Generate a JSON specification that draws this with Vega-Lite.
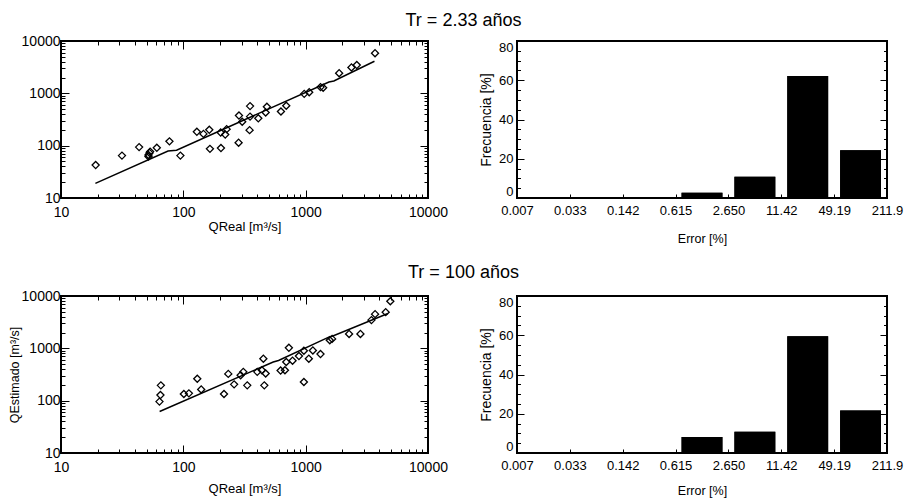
{
  "$schema": "https://vega.github.io/schema/vega-lite/v6.json",
  "padding": {"left": 7, "top": 11, "right": 0, "bottom": 0},
  "datasets": {
    "top_pts": [
      {"qreal": 19.2, "qest": 42.6}, {"qreal": 31.5, "qest": 64.6}, {"qreal": 43.5, "qest": 93.8},
      {"qreal": 51.9, "qest": 66.5}, {"qreal": 52.9, "qest": 72.8}, {"qreal": 53.5, "qest": 77},
      {"qreal": 51.9, "qest": 62}, {"qreal": 60.7, "qest": 91}, {"qreal": 77, "qest": 121},
      {"qreal": 94.6, "qest": 64.6}, {"qreal": 129, "qest": 184}, {"qreal": 146, "qest": 168},
      {"qreal": 163, "qest": 201}, {"qreal": 165, "qest": 87}, {"qreal": 202, "qest": 178},
      {"qreal": 203, "qest": 90}, {"qreal": 220, "qest": 163}, {"qreal": 226, "qest": 207},
      {"qreal": 283, "qest": 114}, {"qreal": 285, "qest": 376}, {"qreal": 303, "qest": 287},
      {"qreal": 348, "qest": 198}, {"qreal": 351, "qest": 570}, {"qreal": 351, "qest": 359},
      {"qreal": 410, "qest": 333}, {"qreal": 471, "qest": 430}, {"qreal": 482, "qest": 553},
      {"qreal": 628, "qest": 450}, {"qreal": 694, "qest": 580}, {"qreal": 973, "qest": 977},
      {"qreal": 1069, "qest": 1052}, {"qreal": 1322, "qest": 1315}, {"qreal": 1390, "qest": 1276},
      {"qreal": 1878, "qest": 2427}, {"qreal": 2367, "qest": 3126}, {"qreal": 2617, "qest": 3470},
      {"qreal": 3690, "qest": 5850}
    ],
    "top_fit": [
      {"qreal": 19.1, "qfit": 19}, {"qreal": 75, "qfit": 79}, {"qreal": 88, "qfit": 82},
      {"qreal": 1550, "qfit": 1650}, {"qreal": 1700, "qfit": 1720}, {"qreal": 3650, "qfit": 4100}
    ],
    "top_err": [
      {"lo": 0.00769, "hi": 0.03313, "freq": 0}, {"lo": 0.03313, "hi": 0.14275, "freq": 0},
      {"lo": 0.14275, "hi": 0.6151, "freq": 0}, {"lo": 0.6151, "hi": 2.65, "freq": 2.7},
      {"lo": 2.65, "hi": 11.42, "freq": 10.8}, {"lo": 11.42, "hi": 49.19, "freq": 62.2},
      {"lo": 49.19, "hi": 211.9, "freq": 24.3}
    ],
    "bot_pts": [
      {"qreal": 63.8, "qest": 96}, {"qreal": 65, "qest": 128}, {"qreal": 65.5, "qest": 196},
      {"qreal": 101, "qest": 134}, {"qreal": 111, "qest": 138}, {"qreal": 130, "qest": 262},
      {"qreal": 140, "qest": 164}, {"qreal": 215, "qest": 134}, {"qreal": 233, "qest": 325},
      {"qreal": 260, "qest": 205}, {"qreal": 294, "qest": 307}, {"qreal": 309, "qest": 355},
      {"qreal": 333, "qest": 196}, {"qreal": 402, "qest": 355}, {"qreal": 439, "qest": 382},
      {"qreal": 451, "qest": 634}, {"qreal": 459, "qest": 196}, {"qreal": 471, "qest": 330},
      {"qreal": 624, "qest": 376}, {"qreal": 677, "qest": 382}, {"qreal": 694, "qest": 548},
      {"qreal": 729, "qest": 1023}, {"qreal": 781, "qest": 581}, {"qreal": 881, "qest": 712},
      {"qreal": 967, "qest": 898}, {"qreal": 967, "qest": 227}, {"qreal": 1061, "qest": 634},
      {"qreal": 1145, "qest": 912}, {"qreal": 1322, "qest": 777}, {"qreal": 1575, "qest": 1429},
      {"qreal": 1645, "qest": 1514}, {"qreal": 2264, "qest": 1883}, {"qreal": 2803, "qest": 1883},
      {"qreal": 3447, "qest": 3462}, {"qreal": 3694, "qest": 4500}, {"qreal": 4510, "qest": 4910},
      {"qreal": 4920, "qest": 7930}
    ],
    "bot_fit": [
      {"qreal": 64, "qfit": 62}, {"qreal": 543, "qfit": 548}, {"qreal": 600, "qfit": 585},
      {"qreal": 1575, "qfit": 1675}, {"qreal": 1650, "qfit": 1700}, {"qreal": 4700, "qfit": 4620}
    ],
    "bot_err": [
      {"lo": 0.00769, "hi": 0.03313, "freq": 0}, {"lo": 0.03313, "hi": 0.14275, "freq": 0},
      {"lo": 0.14275, "hi": 0.6151, "freq": 0}, {"lo": 0.6151, "hi": 2.65, "freq": 8.1},
      {"lo": 2.65, "hi": 11.42, "freq": 10.8}, {"lo": 11.42, "hi": 49.19, "freq": 59.5},
      {"lo": 49.19, "hi": 211.9, "freq": 21.6}
    ]
  },
  "columns": 2,
  "align": "each",
  "bounds": "flush",
  "spacing": {"row": 98, "column": 89},
  "concat": [
    {
      "width": 367, "height": 157,
      "title": {"text": "Tr = 2.33 años", "anchor": "middle", "dx": 219, "offset": 4},
      "layer": [
        {
          "data": {"name": "top_pts"},
          "mark": {"type": "point", "shape": "diamond", "filled": false, "color": "black", "strokeWidth": 1.3, "size": 50, "opacity": 1},
          "encoding": {
            "x": {"field": "qreal", "type": "quantitative", "scale": {"type": "log", "domain": [10, 10000], "nice": false},
              "axis": {"orient": "bottom", "values": [10,20,30,40,50,60,70,80,90,100,200,300,400,500,600,700,800,900,1000,2000,3000,4000,5000,6000,7000,8000,9000,10000],
                "labelExpr": "abs(log(datum.value)/LN10 - round(log(datum.value)/LN10)) < 0.001 ? format(datum.value, 'd') : ''",
                "tickSize": -8,
                "tickDash": {"condition": {"test": "abs(log(datum.value)/LN10 - round(log(datum.value)/LN10)) < 0.001", "value": [20, 1]}, "value": [4, 20]},
                "labelPadding": 15, "labelFontSize": 14, "title": "QReal  [m³/s]", "titleFontSize": 13, "titlePadding": 1}},
            "y": {"field": "qest", "type": "quantitative", "scale": {"type": "log", "domain": [10, 10000], "nice": false},
              "axis": {"orient": "left", "values": [10,20,30,40,50,60,70,80,90,100,200,300,400,500,600,700,800,900,1000,2000,3000,4000,5000,6000,7000,8000,9000,10000],
                "labelExpr": "abs(log(datum.value)/LN10 - round(log(datum.value)/LN10)) < 0.001 ? format(datum.value, 'd') : ''",
                "tickSize": -8,
                "tickDash": {"condition": {"test": "abs(log(datum.value)/LN10 - round(log(datum.value)/LN10)) < 0.001", "value": [20, 1]}, "value": [4, 20]},
                "labelPadding": 9, "labelFontSize": 14, "title": null}}
          }
        },
        {
          "data": {"name": "top_fit"},
          "mark": {"type": "line", "color": "black", "strokeWidth": 1.5},
          "encoding": {
            "x": {"field": "qreal", "type": "quantitative", "scale": {"type": "log", "domain": [10, 10000], "nice": false},
              "axis": {"orient": "top", "values": [10,20,30,40,50,60,70,80,90,100,200,300,400,500,600,700,800,900,1000,2000,3000,4000,5000,6000,7000,8000,9000,10000],
                "labels": false, "title": null, "tickSize": -8,
                "tickDash": {"condition": {"test": "abs(log(datum.value)/LN10 - round(log(datum.value)/LN10)) < 0.001", "value": [20, 1]}, "value": [4, 20]}}},
            "y": {"field": "qfit", "type": "quantitative", "scale": {"type": "log", "domain": [10, 10000], "nice": false},
              "axis": {"orient": "right", "values": [10,20,30,40,50,60,70,80,90,100,200,300,400,500,600,700,800,900,1000,2000,3000,4000,5000,6000,7000,8000,9000,10000],
                "labels": false, "title": null, "tickSize": -8,
                "tickDash": {"condition": {"test": "abs(log(datum.value)/LN10 - round(log(datum.value)/LN10)) < 0.001", "value": [20, 1]}, "value": [4, 20]}}}
          }
        }
      ],
      "resolve": {"axis": {"x": "independent", "y": "independent"}}
    },
    {
      "width": 370, "height": 157,
      "layer": [
        {
          "data": {"name": "top_err"},
          "mark": {"type": "bar", "color": "black", "xOffset": 6, "x2Offset": -6},
          "encoding": {
            "x": {"field": "lo", "type": "quantitative", "scale": {"type": "log", "domain": [0.00769, 211.9], "nice": false},
              "axis": {"orient": "bottom", "values": [0.00769, 0.03313, 0.14275, 0.6151, 2.65, 11.42, 49.19, 211.9],
                "labelExpr": "datum.value < 1 ? format(floor(datum.value*1000)/1000, '.3f') : format(datum.value, '.4r')",
                "tickSize": -4, "labelPadding": 10, "labelFontSize": 13, "title": "Error [%]", "titleFontSize": 12.5, "titlePadding": 15}},
            "x2": {"field": "hi"},
            "y": {"field": "freq", "type": "quantitative", "scale": {"domain": [0, 80], "nice": false},
              "axis": {"orient": "left", "values": [0,5,10,15,20,25,30,35,40,45,50,55,60,65,70,75,80],
                "labelExpr": "datum.value % 20 == 0 ? datum.label : ''",
                "tickSize": -7,
                "tickDash": {"condition": {"test": "datum.value % 20 == 0", "value": [20, 1]}, "value": [3.5, 20]},
                "labelFlush": true,
                "labelPadding": 11, "labelFontSize": 13, "title": "Frecuencia [%]", "titleFontSize": 14, "titlePadding": 5}},
            "y2": {"datum": 0}
          }
        },
        {
          "data": {"name": "top_err"},
          "mark": {"type": "bar", "color": "black", "xOffset": 6, "x2Offset": -6},
          "encoding": {
            "x": {"field": "lo", "type": "quantitative", "scale": {"type": "log", "domain": [0.00769, 211.9], "nice": false}},
            "x2": {"field": "hi"},
            "y": {"field": "freq", "type": "quantitative", "scale": {"domain": [0, 80], "nice": false},
              "axis": {"orient": "right", "values": [0,5,10,15,20,25,30,35,40,45,50,55,60,65,70,75,80], "labels": false, "title": null,
                "tickSize": -7,
                "tickDash": {"condition": {"test": "datum.value % 20 == 0", "value": [20, 1]}, "value": [3.5, 20]}}},
            "y2": {"datum": 0}
          }
        }
      ],
      "resolve": {"axis": {"y": "independent"}}
    },
    {
      "width": 367, "height": 157,
      "title": {"text": "Tr = 100 años", "anchor": "middle", "dx": 219, "offset": 7},
      "layer": [
        {
          "data": {"name": "bot_pts"},
          "mark": {"type": "point", "shape": "diamond", "filled": false, "color": "black", "strokeWidth": 1.3, "size": 50, "opacity": 1},
          "encoding": {
            "x": {"field": "qreal", "type": "quantitative", "scale": {"type": "log", "domain": [10, 10000], "nice": false},
              "axis": {"orient": "bottom", "values": [10,20,30,40,50,60,70,80,90,100,200,300,400,500,600,700,800,900,1000,2000,3000,4000,5000,6000,7000,8000,9000,10000],
                "labelExpr": "abs(log(datum.value)/LN10 - round(log(datum.value)/LN10)) < 0.001 ? format(datum.value, 'd') : ''",
                "tickSize": -8,
                "tickDash": {"condition": {"test": "abs(log(datum.value)/LN10 - round(log(datum.value)/LN10)) < 0.001", "value": [20, 1]}, "value": [4, 20]},
                "labelPadding": 15, "labelFontSize": 14, "title": "QReal  [m³/s]", "titleFontSize": 13, "titlePadding": 8}},
            "y": {"field": "qest", "type": "quantitative", "scale": {"type": "log", "domain": [10, 10000], "nice": false},
              "axis": {"orient": "left", "values": [10,20,30,40,50,60,70,80,90,100,200,300,400,500,600,700,800,900,1000,2000,3000,4000,5000,6000,7000,8000,9000,10000],
                "labelExpr": "abs(log(datum.value)/LN10 - round(log(datum.value)/LN10)) < 0.001 ? format(datum.value, 'd') : ''",
                "tickSize": -8,
                "tickDash": {"condition": {"test": "abs(log(datum.value)/LN10 - round(log(datum.value)/LN10)) < 0.001", "value": [20, 1]}, "value": [4, 20]},
                "labelPadding": 9, "labelFontSize": 14, "title": "QEstimado  [m³/s]", "titleFontSize": 12.5, "titlePadding": 0}}
          }
        },
        {
          "data": {"name": "bot_fit"},
          "mark": {"type": "line", "color": "black", "strokeWidth": 1.5},
          "encoding": {
            "x": {"field": "qreal", "type": "quantitative", "scale": {"type": "log", "domain": [10, 10000], "nice": false},
              "axis": {"orient": "top", "values": [10,20,30,40,50,60,70,80,90,100,200,300,400,500,600,700,800,900,1000,2000,3000,4000,5000,6000,7000,8000,9000,10000],
                "labels": false, "title": null, "tickSize": -8,
                "tickDash": {"condition": {"test": "abs(log(datum.value)/LN10 - round(log(datum.value)/LN10)) < 0.001", "value": [20, 1]}, "value": [4, 20]}}},
            "y": {"field": "qfit", "type": "quantitative", "scale": {"type": "log", "domain": [10, 10000], "nice": false},
              "axis": {"orient": "right", "values": [10,20,30,40,50,60,70,80,90,100,200,300,400,500,600,700,800,900,1000,2000,3000,4000,5000,6000,7000,8000,9000,10000],
                "labels": false, "title": null, "tickSize": -8,
                "tickDash": {"condition": {"test": "abs(log(datum.value)/LN10 - round(log(datum.value)/LN10)) < 0.001", "value": [20, 1]}, "value": [4, 20]}}}
          }
        }
      ],
      "resolve": {"axis": {"x": "independent", "y": "independent"}}
    },
    {
      "width": 370, "height": 157,
      "layer": [
        {
          "data": {"name": "bot_err"},
          "mark": {"type": "bar", "color": "black", "xOffset": 6, "x2Offset": -6},
          "encoding": {
            "x": {"field": "lo", "type": "quantitative", "scale": {"type": "log", "domain": [0.00769, 211.9], "nice": false},
              "axis": {"orient": "bottom", "values": [0.00769, 0.03313, 0.14275, 0.6151, 2.65, 11.42, 49.19, 211.9],
                "labelExpr": "datum.value < 1 ? format(floor(datum.value*1000)/1000, '.3f') : format(datum.value, '.4r')",
                "tickSize": -4, "labelPadding": 10, "labelFontSize": 13, "title": "Error [%]", "titleFontSize": 12.5, "titlePadding": 12}},
            "x2": {"field": "hi"},
            "y": {"field": "freq", "type": "quantitative", "scale": {"domain": [0, 80], "nice": false},
              "axis": {"orient": "left", "values": [0,5,10,15,20,25,30,35,40,45,50,55,60,65,70,75,80],
                "labelExpr": "datum.value % 20 == 0 ? datum.label : ''",
                "tickSize": -7,
                "tickDash": {"condition": {"test": "datum.value % 20 == 0", "value": [20, 1]}, "value": [3.5, 20]},
                "labelFlush": true,
                "labelPadding": 11, "labelFontSize": 13, "title": "Frecuencia [%]", "titleFontSize": 14, "titlePadding": 5}},
            "y2": {"datum": 0}
          }
        },
        {
          "data": {"name": "bot_err"},
          "mark": {"type": "bar", "color": "black", "xOffset": 6, "x2Offset": -6},
          "encoding": {
            "x": {"field": "lo", "type": "quantitative", "scale": {"type": "log", "domain": [0.00769, 211.9], "nice": false}},
            "x2": {"field": "hi"},
            "y": {"field": "freq", "type": "quantitative", "scale": {"domain": [0, 80], "nice": false},
              "axis": {"orient": "right", "values": [0,5,10,15,20,25,30,35,40,45,50,55,60,65,70,75,80], "labels": false, "title": null,
                "tickSize": -7,
                "tickDash": {"condition": {"test": "datum.value % 20 == 0", "value": [20, 1]}, "value": [3.5, 20]}}},
            "y2": {"datum": 0}
          }
        }
      ],
      "resolve": {"axis": {"y": "independent"}}
    }
  ],
  "config": {
    "view": {"stroke": "black", "strokeWidth": 2},
    "font": "Liberation Sans",
    "axis": {"domain": false, "grid": false, "tickColor": "black", "tickWidth": 1, "labelColor": "black", "titleColor": "black",
      "labelFont": "Liberation Sans", "titleFont": "Liberation Sans", "titleFontWeight": "normal", "labelFlush": false, "labelOverlap": false},
    "title": {"font": "Liberation Sans", "fontSize": 18, "fontWeight": "normal", "color": "black"}
  }
}
